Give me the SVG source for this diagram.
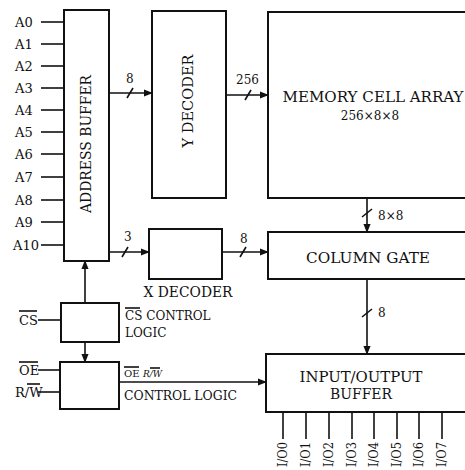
<svg xmlns="http://www.w3.org/2000/svg" width="465" height="470" viewBox="0 0 465 470">
<defs>
<style>
text{font-family:"DejaVu Serif","Liberation Serif",serif;fill:#111;}
.pin{font-size:13px;}
.iop{font-size:12px;}
.lbl{font-size:12px;}
.big{font-size:14px;}
.box{fill:#fff;stroke:#111;stroke-width:2;}
.ln{stroke:#111;stroke-width:1.6;fill:none;}
.ar{stroke:#111;stroke-width:1.6;fill:none;marker-end:url(#ah);}
</style>
<marker id="ah" viewBox="0 0 10 10" refX="9" refY="5" markerWidth="9" markerHeight="9" markerUnits="userSpaceOnUse" orient="auto">
<path d="M0,1 L10,5 L0,9 z" fill="#111"/>
</marker>
</defs>

<g id="connectors">
<g class="ln">
<line x1="41" y1="22" x2="64" y2="22"/>
<line x1="41" y1="44" x2="64" y2="44"/>
<line x1="41" y1="66" x2="64" y2="66"/>
<line x1="41" y1="88" x2="64" y2="88"/>
<line x1="41" y1="110" x2="64" y2="110"/>
<line x1="41" y1="132" x2="64" y2="132"/>
<line x1="41" y1="154" x2="64" y2="154"/>
<line x1="41" y1="177" x2="64" y2="177"/>
<line x1="41" y1="200" x2="64" y2="200"/>
<line x1="41" y1="222" x2="64" y2="222"/>
<line x1="41" y1="245" x2="64" y2="245"/>
<line x1="38" y1="320" x2="61" y2="320"/>
<line x1="38" y1="370" x2="60" y2="370"/>
<line x1="38" y1="392" x2="60" y2="392"/>
</g>
<line class="ar" x1="109" y1="93" x2="152" y2="93"/>
<line class="ln" x1="127" y1="98" x2="133" y2="88"/>
<line class="ar" x1="226" y1="95" x2="268" y2="95"/>
<line class="ln" x1="245" y1="100" x2="251" y2="90"/>
<line class="ar" x1="109" y1="252" x2="149" y2="252"/>
<line class="ln" x1="122" y1="257" x2="128" y2="247"/>
<line class="ar" x1="222" y1="252" x2="268" y2="252"/>
<line class="ln" x1="240" y1="257" x2="246" y2="247"/>
<line class="ar" x1="367" y1="198" x2="367" y2="232"/>
<line class="ln" x1="362" y1="217" x2="372" y2="209"/>
<line class="ar" x1="367" y1="279" x2="367" y2="354"/>
<line class="ln" x1="362" y1="317" x2="372" y2="309"/>
<line class="ar" x1="85" y1="303" x2="85" y2="261"/>
<line class="ar" x1="85" y1="342" x2="85" y2="362"/>
<line class="ar" x1="119" y1="382" x2="266" y2="382"/>
<g class="ln">
<line x1="283" y1="412" x2="283" y2="439"/>
<line x1="306" y1="412" x2="306" y2="439"/>
<line x1="329" y1="412" x2="329" y2="439"/>
<line x1="352" y1="412" x2="352" y2="439"/>
<line x1="374" y1="412" x2="374" y2="439"/>
<line x1="397" y1="412" x2="397" y2="439"/>
<line x1="419" y1="412" x2="419" y2="439"/>
<line x1="442" y1="412" x2="442" y2="439"/>
</g>
</g>

<g id="address-labels" class="pin">
<text x="15" y="27">A0</text>
<text x="15" y="49">A1</text>
<text x="15" y="71">A2</text>
<text x="15" y="93">A3</text>
<text x="15" y="115">A4</text>
<text x="15" y="137">A5</text>
<text x="15" y="159">A6</text>
<text x="15" y="182">A7</text>
<text x="15" y="205">A8</text>
<text x="15" y="227">A9</text>
<text x="13" y="250">A10</text>
</g>

<g id="address-buffer">
<rect class="box" x="64" y="10" width="45" height="251"/>
<text class="big" transform="translate(91,144) rotate(-90)" text-anchor="middle" textLength="138" lengthAdjust="spacingAndGlyphs">ADDRESS BUFFER</text>
</g>

<g id="y-decoder">
<rect class="box" x="152" y="11" width="74" height="187"/>
<text class="big" transform="translate(193,101) rotate(-90)" text-anchor="middle" textLength="93" lengthAdjust="spacingAndGlyphs">Y DECODER</text>
</g>

<g id="memory-cell-array">
<rect class="box" x="268" y="12" width="210" height="186"/>
<text class="big" x="373" y="102" text-anchor="middle" textLength="181" lengthAdjust="spacingAndGlyphs">MEMORY CELL ARRAY</text>
<text class="lbl" x="370" y="120" text-anchor="middle">256×8×8</text>
</g>

<g id="x-decoder">
<rect class="box" x="149" y="229" width="73" height="50"/>
<text class="big" x="188" y="297" text-anchor="middle" textLength="89" lengthAdjust="spacingAndGlyphs">X DECODER</text>
</g>

<g id="column-gate">
<rect class="box" x="268" y="232" width="210" height="47"/>
<text class="big" x="368" y="263" text-anchor="middle" textLength="124" lengthAdjust="spacingAndGlyphs">COLUMN GATE</text>
</g>

<g id="io-buffer">
<rect class="box" x="266" y="354" width="210" height="58"/>
<text class="big" x="361" y="382" text-anchor="middle" textLength="123" lengthAdjust="spacingAndGlyphs">INPUT/OUTPUT</text>
<text class="big" x="361" y="399" text-anchor="middle" textLength="62" lengthAdjust="spacingAndGlyphs">BUFFER</text>
</g>

<g id="cs-control">
<rect class="box" x="61" y="303" width="58" height="39"/>
<text class="pin" x="19" y="325">CS</text>
<line class="ln" x1="19" y1="311" x2="37" y2="311" stroke-width="1.2"/>
<text class="lbl" x="125" y="320">CS CONTROL</text>
<line class="ln" x1="125" y1="308" x2="140" y2="308" stroke-width="1.2"/>
<text class="lbl" x="125" y="337">LOGIC</text>
</g>

<g id="oe-rw-control">
<rect class="box" x="60" y="362" width="59" height="47"/>
<text class="pin" x="19" y="375">OE</text>
<line class="ln" x1="19" y1="362" x2="38" y2="362" stroke-width="1.2"/>
<text class="pin" x="15" y="397">R/W</text>
<line class="ln" x1="27" y1="384" x2="40" y2="384" stroke-width="1.2"/>
<text x="124" y="377" style="font-size:10px">OE</text>
<line class="ln" x1="124" y1="367" x2="139" y2="367" stroke-width="1"/>
<text x="143" y="377" style="font-size:9px;font-style:italic">R/W</text>
<line class="ln" x1="150" y1="368" x2="160" y2="368" stroke-width="1"/>
<text class="lbl" x="124" y="400" textLength="113" lengthAdjust="spacingAndGlyphs">CONTROL LOGIC</text>
</g>

<g id="bus-labels" class="lbl">
<text x="126" y="83">8</text>
<text x="236" y="84">256</text>
<text x="124" y="241">3</text>
<text x="240" y="243">8</text>
<text x="378" y="220">8×8</text>
<text x="378" y="317">8</text>
</g>

<g id="io-labels" class="iop">
<text transform="translate(287,442) rotate(-90)" text-anchor="end" textLength="25" lengthAdjust="spacingAndGlyphs">I/O0</text>
<text transform="translate(310,442) rotate(-90)" text-anchor="end" textLength="25" lengthAdjust="spacingAndGlyphs">I/O1</text>
<text transform="translate(333,442) rotate(-90)" text-anchor="end" textLength="25" lengthAdjust="spacingAndGlyphs">I/O2</text>
<text transform="translate(356,442) rotate(-90)" text-anchor="end" textLength="25" lengthAdjust="spacingAndGlyphs">I/O3</text>
<text transform="translate(378,442) rotate(-90)" text-anchor="end" textLength="25" lengthAdjust="spacingAndGlyphs">I/O4</text>
<text transform="translate(401,442) rotate(-90)" text-anchor="end" textLength="25" lengthAdjust="spacingAndGlyphs">I/O5</text>
<text transform="translate(423,442) rotate(-90)" text-anchor="end" textLength="25" lengthAdjust="spacingAndGlyphs">I/O6</text>
<text transform="translate(446,442) rotate(-90)" text-anchor="end" textLength="25" lengthAdjust="spacingAndGlyphs">I/O7</text>
</g>
</svg>
